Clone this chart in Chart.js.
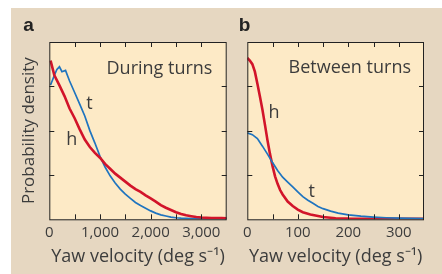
<!DOCTYPE html>
<html>
<head>
<meta charset="utf-8">
<script src="https://cdn.jsdelivr.net/npm/chart.js@4.4.0/dist/chart.umd.min.js"></script>
<style>
  body { margin: 0; background: #fff; }
  #panel { position: absolute; left: 11px; top: 8px; width: 431px; height: 266px; background: #e6d7c1; }
  #wrapA { position: absolute; left: 0; top: 0; width: 226px; height: 266px; }
  #wrapB { position: absolute; left: 226px; top: 0; width: 205px; height: 266px; }
</style>
</head>
<body>
<div id="panel">
  <div id="wrapA"><canvas id="turnsChart"></canvas></div>
  <div id="wrapB"><canvas id="betweenChart"></canvas></div>
</div>
<script>
// a: during turns (yaw velocity, deg/s)
const turnsHeadVel = [25, 100, 200, 300, 400, 500, 600, 700, 800, 900, 1000, 1100, 1200, 1300, 1400, 1500, 1600, 1700, 1800, 1900, 2000, 2100, 2200, 2300, 2400, 2500, 2600, 2700, 2800, 2900, 3000, 3200, 3400, 3500];
const turnsHead = [3.58, 3.25, 3.02, 2.78, 2.5, 2.28, 2.03, 1.8, 1.63, 1.5, 1.39, 1.25, 1.14, 1.03, 0.94, 0.85, 0.76, 0.68, 0.62, 0.54, 0.47, 0.4, 0.32, 0.26, 0.21, 0.16, 0.12, 0.09, 0.07, 0.05, 0.04, 0.03, 0.03, 0.02];
const turnsTailVel = [25, 100, 150, 200, 250, 320, 400, 500, 600, 700, 800, 900, 1000, 1100, 1200, 1300, 1400, 1500, 1600, 1700, 1800, 1900, 2000, 2100, 2200, 2300, 2400, 2500, 2600, 2800, 3000, 3500];
const turnsTail = [3.03, 3.25, 3.38, 3.44, 3.33, 3.36, 3.12, 2.86, 2.6, 2.33, 2.0, 1.72, 1.42, 1.18, 0.98, 0.82, 0.68, 0.57, 0.47, 0.38, 0.31, 0.25, 0.19, 0.14, 0.1, 0.075, 0.05, 0.035, 0.025, 0.015, 0.01, 0.01];

// b: between turns
const betweenHeadVel = [0, 5, 10, 15, 20, 25, 30, 35, 40, 45, 50, 55, 60, 65, 70, 80, 90, 100, 110, 125, 150, 175, 200, 250, 300, 350];
const betweenHead = [3.64, 3.58, 3.5, 3.33, 3.06, 2.77, 2.47, 2.13, 1.78, 1.47, 1.2, 0.97, 0.8, 0.66, 0.56, 0.4, 0.3, 0.22, 0.16, 0.11, 0.05, 0.025, 0.015, 0.01, 0.01, 0.01];
const betweenTailVel = [0, 10, 20, 30, 40, 50, 60, 70, 80, 90, 100, 110, 120, 130, 140, 150, 165, 180, 200, 225, 250, 275, 300, 325, 350];
const betweenTail = [1.95, 1.91, 1.82, 1.65, 1.47, 1.28, 1.1, 0.95, 0.84, 0.73, 0.62, 0.51, 0.43, 0.36, 0.29, 0.24, 0.185, 0.14, 0.1, 0.07, 0.05, 0.035, 0.025, 0.02, 0.015];

const RED = '#d2142a';
const BLUE = '#1f74bf';
const TEXT = '#3c3c3c';
const FONT = '"Open Sans", "Liberation Sans", sans-serif';

function pts(xs, ys) {
  return xs.map((v, i) => ({ x: v, y: ys[i] }));
}

const framePlugin = {
  id: 'frame',
  beforeDatasetsDraw(chart) {
    const { ctx, chartArea: a } = chart;
    ctx.save();
    ctx.fillStyle = '#fdeac6';
    ctx.fillRect(a.left, a.top, a.width, a.height);
    ctx.restore();
  },
  afterDatasetsDraw(chart, args, opts) {
    const { ctx, chartArea: a, scales: { x, y } } = chart;
    ctx.save();
    ctx.strokeStyle = '#222';
    ctx.lineWidth = 1;
    ctx.strokeRect(a.left + 0.5, a.top + 0.5, a.width - 1, a.height);
    ctx.beginPath();
    x.ticks.forEach(t => {
      if (t.value <= x.min || t.value >= x.max) return;
      const px = Math.round(x.getPixelForValue(t.value)) + 0.5;
      ctx.moveTo(px, a.bottom); ctx.lineTo(px, a.bottom - 5);
      ctx.moveTo(px, a.top); ctx.lineTo(px, a.top + 5);
    });
    y.ticks.forEach(t => {
      if (t.value <= y.min || t.value >= y.max) return;
      const py = Math.round(y.getPixelForValue(t.value)) + 0.5;
      ctx.moveTo(a.left, py); ctx.lineTo(a.left + 5, py);
      ctx.moveTo(a.right, py); ctx.lineTo(a.right - 5, py);
    });
    ctx.stroke();

    // panel notes placed in data units
    ctx.fillStyle = TEXT;
    ctx.textAlign = 'center';
    ctx.textBaseline = 'middle';
    (opts.notes || []).forEach(n => {
      ctx.font = n.size + 'px ' + FONT;
      ctx.fillText(n.text, x.getPixelForValue(n.x), y.getPixelForValue(n.y));
    });
    ctx.font = 'bold 19px "Liberation Sans", Arial, sans-serif';
    ctx.fillStyle = '#222';
    ctx.textAlign = 'left';
    ctx.textBaseline = 'alphabetic';
    ctx.fillText(opts.letter, a.left - opts.letterDx, a.top - 11);
    ctx.restore();
  }
};

function makeChart(id, cfg) {
  return new Chart(document.getElementById(id), {
    type: 'line',
    data: {
      datasets: cfg.datasets
    },
    options: {
      responsive: true,
      maintainAspectRatio: false,
      animation: false,
      layout: { padding: cfg.padding },
      elements: { point: { radius: 0 }, line: { tension: 0 } },
      plugins: {
        legend: { display: false },
        tooltip: { enabled: false },
        frame: { notes: cfg.notes, letter: cfg.letter, letterDx: cfg.letterDx }
      },
      scales: {
        x: {
          type: 'linear',
          min: 0,
          max: cfg.xMax,
          grid: { display: false, drawTicks: false },
          border: { display: false },
          afterFit: s => { s.height = 54.7; },
          ticks: {
            stepSize: cfg.minorStep,
            autoSkip: false,
            maxRotation: 0,
            padding: 4,
            color: TEXT,
            font: { family: FONT, size: 15 },
            callback: v => (v % cfg.labelStep === 0 ? v.toLocaleString('en-US') : '')
          },
          title: {
            display: true,
            text: 'Yaw velocity (deg s\u207B\u00B9)',
            color: TEXT,
            font: { family: FONT, size: 18 },
            padding: { top: 0, bottom: 6 }
          }
        },
        y: {
          min: 0,
          max: 4,
          grid: { display: false, drawTicks: false },
          border: { display: false },
          afterFit: s => { s.width = cfg.yWidth; },
          ticks: { stepSize: 1, display: false },
          title: {
            display: cfg.yTitle,
            text: 'Probability density',
            color: TEXT,
            font: { family: FONT, size: 17 },
            padding: { top: 8, bottom: 0 }
          }
        }
      }
    },
    plugins: [framePlugin]
  });
}

makeChart('turnsChart', {
  xMax: 3500,
  minorStep: 500,
  labelStep: 1000,
  yWidth: 38.3,
  yTitle: true,
  padding: { top: 34, right: 10.3, bottom: 0, left: 0 },
  letter: 'a',
  letterDx: 26,
  notes: [
    { text: 'During turns', x: 2174, y: 3.39, size: 18 },
    { text: 't', x: 793, y: 2.6, size: 18 },
    { text: 'h', x: 442, y: 1.79, size: 18 }
  ],
  datasets: [
    { label: 'h', data: pts(turnsHeadVel, turnsHead), borderColor: RED, borderWidth: 2.6 },
    { label: 't', data: pts(turnsTailVel, turnsTail), borderColor: BLUE, borderWidth: 1.7 }
  ]
});

makeChart('betweenChart', {
  xMax: 350,
  minorStep: 50,
  labelStep: 100,
  yWidth: 10.3,
  yTitle: false,
  padding: { top: 34, right: 18, bottom: 0, left: 0 },
  letter: 'b',
  letterDx: 8.5,
  notes: [
    { text: 'Between turns', x: 203, y: 3.41, size: 18 },
    { text: 'h', x: 53, y: 2.4, size: 18 },
    { text: 't', x: 127.6, y: 0.62, size: 18 }
  ],
  datasets: [
    { label: 't', data: pts(betweenTailVel, betweenTail), borderColor: BLUE, borderWidth: 1.7 },
    { label: 'h', data: pts(betweenHeadVel, betweenHead), borderColor: RED, borderWidth: 2.6 }
  ]
});
</script>
</body>
</html>
